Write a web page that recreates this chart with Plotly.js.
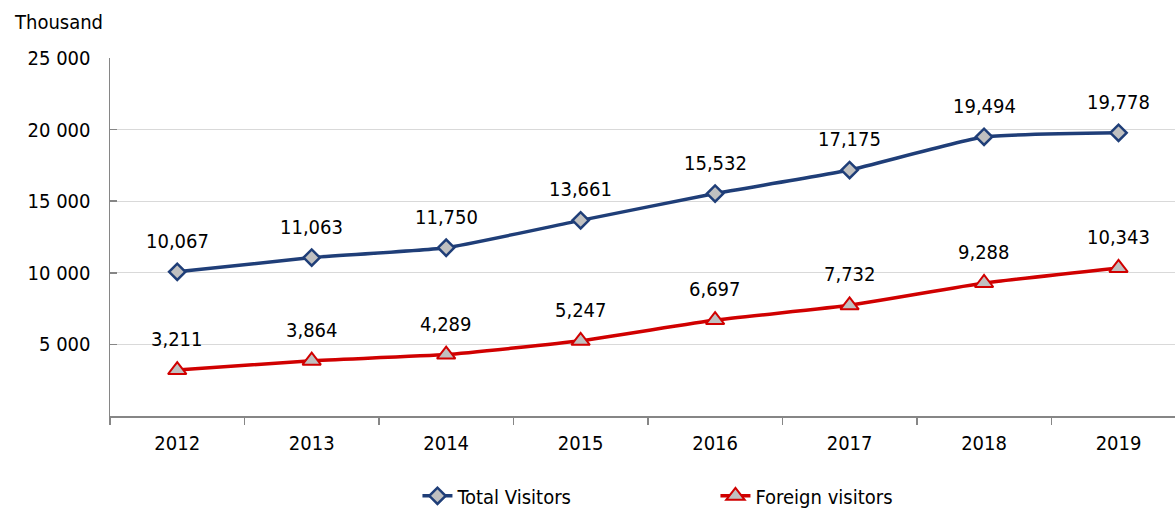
<!DOCTYPE html>
<html>
<head>
<meta charset="utf-8">
<script src="https://cdn.plot.ly/plotly-3.0.1.min.js"></script>
<style>
html,body{margin:0;padding:0;background:#fff;}
#chart{width:1175px;height:508px;}
</style>
</head>
<body>
<div id="chart"></div>
<script>
var years = ['2012','2013','2014','2015','2016','2017','2018','2019'];
var totalVisitors = [10067, 11063, 11750, 13661, 15532, 17175, 19494, 19778];
var foreignVisitors = [3211, 3864, 4289, 5247, 6697, 7732, 9288, 10343];
var yTickVals = [5000, 10000, 15000, 20000, 25000];
var yTickText = ['5 000', '10 000', '15 000', '20 000', '25 000'];

var FONT = '"DejaVu Sans Condensed", "DejaVu Sans", Tahoma, sans-serif';
var BLUE = '#1f3e78';
var RED = '#d00000';

function fmt(v){ return v.toString().replace(/\B(?=(\d{3})+(?!\d))/g, ','); }

var traces = [
  {
    x: years, y: totalVisitors, name: 'Total Visitors', type: 'scatter', mode: 'lines+markers',
    line: {color: BLUE, width: 3.5, shape: 'spline', smoothing: 0.4},
    marker: {symbol: 'diamond', size: 12.5, color: '#c0c0c0', line: {color: BLUE, width: 2.5}},
    hoverinfo: 'skip'
  },
  {
    x: years, y: foreignVisitors, name: 'Foreign visitors', type: 'scatter', mode: 'lines+markers',
    line: {color: RED, width: 3.5, shape: 'spline', smoothing: 0.4},
    marker: {symbol: 'triangle-up', size: 16, color: '#c0c0c0', line: {color: RED, width: 2}},
    hoverinfo: 'skip'
  }
];

var annotations = [];
[totalVisitors, foreignVisitors].forEach(function(series){
  series.forEach(function(v, i){
    annotations.push({
      x: i, y: v, xref: 'x', yref: 'y', text: fmt(v), showarrow: false,
      yshift: 31, font: {family: FONT, size: 20, color: '#000'}
    });
  });
});
annotations.push({
  xref: 'paper', yref: 'paper', x: -0.092, y: 1.1006, xanchor: 'left', yanchor: 'middle',
  text: 'Thousand', showarrow: false, font: {family: FONT, size: 20, color: '#000'}
});

var layout = {
  width: 1175, height: 508,
  margin: {l: 110, r: 0, t: 58, b: 92, autoexpand: false},
  paper_bgcolor: '#fff', plot_bgcolor: '#fff',
  font: {family: FONT, size: 20, color: '#000'},
  showlegend: true,
  legend: {
    orientation: 'h', x: 0.5685, xanchor: 'center', yref: 'container', y: 0.024, yanchor: 'middle',
    font: {family: FONT, size: 20, color: '#000'}, entrywidth: 253, entrywidthmode: 'pixels'
  },
  xaxis: {
    type: 'category', range: [-0.5, 7.42],
    showline: true, linecolor: '#868686', linewidth: 1.5,
    ticks: 'outside', tickson: 'boundaries', ticklen: 7, tickcolor: '#868686', tickwidth: 1.5,
    showgrid: false, zeroline: false, fixedrange: true, ticklabelstandoff: 8,
    tickfont: {family: FONT, size: 20, color: '#000'}
  },
  yaxis: {
    range: [0, 25000], tickmode: 'array', tickvals: yTickVals, ticktext: yTickText,
    showline: true, linecolor: '#868686', linewidth: 1.5,
    ticks: 'inside', ticklen: 7, tickcolor: '#868686', tickwidth: 1.5,
    showgrid: true, gridcolor: '#d9d9d9', gridwidth: 1, zeroline: false, fixedrange: true,
    ticklabelstandoff: 14,
    tickfont: {family: FONT, size: 20, color: '#000'}
  },
  annotations: annotations
};

Plotly.newPlot('chart', traces, layout, {displayModeBar: false, staticPlot: true});
</script>
</body>
</html>
